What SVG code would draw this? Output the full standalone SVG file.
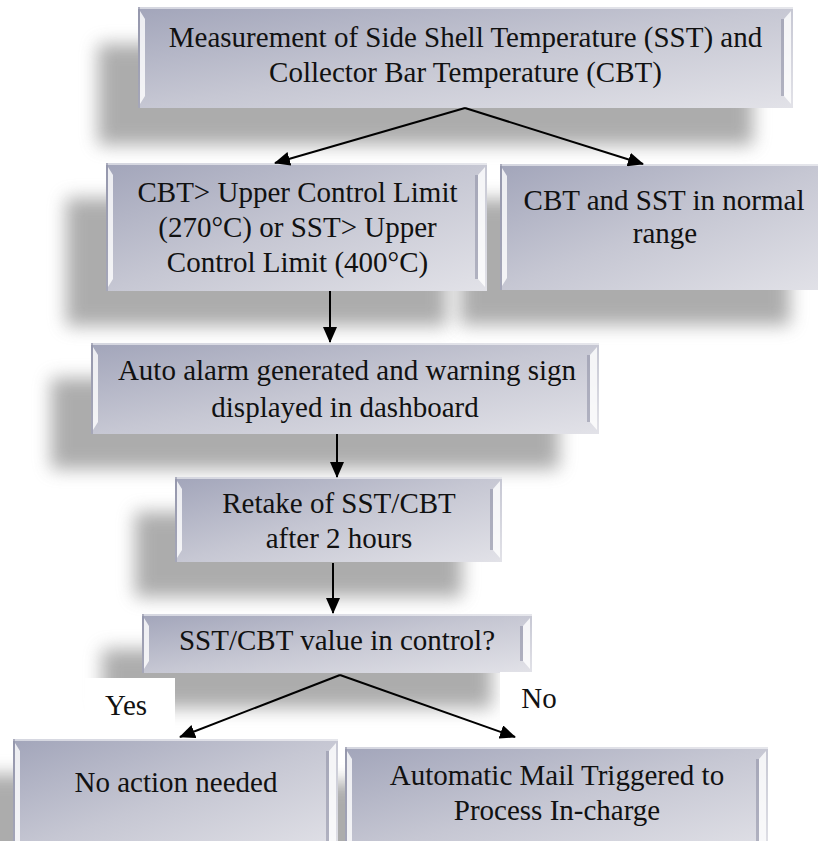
<svg xmlns="http://www.w3.org/2000/svg" width="818" height="841" viewBox="0 0 818 841">
<defs>
<style>
.box{fill:url(#boxg)}
.shadow{fill:#7a7a7a;opacity:.62;filter:url(#blur)}
.hl{fill:#ffffff;opacity:.8}
.dk{fill:#8a8ca2;opacity:.55}
.top{fill:#ffffff;opacity:.55}
.t{font-family:"Liberation Serif","Times New Roman",serif;font-size:29px;fill:#111;text-anchor:middle}
.lbl{fill:#ffffff}
.conn{stroke:#000;stroke-width:2;fill:none;marker-end:url(#arr)}
</style>
<linearGradient id="boxg" x1="0" y1="0" x2="1" y2="1">
<stop offset="0" stop-color="#a2a5ba"/>
<stop offset="0.5" stop-color="#c6c7d3"/>
<stop offset="1" stop-color="#e2e2e8"/>
</linearGradient>
<filter id="blur" x="-20%" y="-40%" width="140%" height="180%">
<feGaussianBlur stdDeviation="9"/>
</filter>
<marker id="arr" markerUnits="userSpaceOnUse" markerWidth="17" markerHeight="14" refX="15" refY="7" orient="auto">
<path d="M0,0 L16,7 L0,14 Z" fill="#000"/>
</marker>
</defs>
<rect width="818" height="841" fill="#fff"/>

<g id="n1">
<rect class="shadow" x="98" y="44" width="655" height="101"/>
<rect class="box" x="138" y="7" width="655" height="101"/>
<rect class="top" x="138" y="7" width="655" height="2"/>
<rect class="dk" x="138" y="7" width="2" height="101"/>
<path class="hl" d="M140,11 L145,19 L145,96 L140,104 Z"/>
<path class="dk" d="M781,19 L784,19 L784,96 L781,96 Z"/>
<path class="hl" d="M791,11 L784,19 L784,96 L791,104 Z"/>
<text class="t" x="465.5" y="47">Measurement of Side Shell Temperature (SST) and</text>
<text class="t" x="465.5" y="82">Collector Bar Temperature (CBT)</text>
</g>

<g id="n3">
<rect class="shadow" x="460" y="199" width="330" height="126"/>
<rect class="box" x="500" y="164" width="330" height="126"/>
<rect class="top" x="500" y="164" width="330" height="2"/>
<rect class="dk" x="500" y="164" width="2" height="126"/>
<path class="hl" d="M502,168 L507,176 L507,278 L502,286 Z"/>
<text class="t" x="664" y="210">CBT and SST in normal</text>
<text class="t" x="665" y="243">range</text>
</g>

<g id="n2">
<rect class="shadow" x="66" y="198" width="381" height="128"/>
<rect class="box" x="106" y="163" width="381" height="128"/>
<rect class="top" x="106" y="163" width="381" height="2"/>
<rect class="dk" x="106" y="163" width="2" height="128"/>
<path class="hl" d="M108,167 L113,175 L113,279 L108,287 Z"/>
<path class="dk" d="M475,175 L478,175 L478,279 L475,279 Z"/>
<path class="hl" d="M485,167 L478,175 L478,279 L485,287 Z"/>
<text class="t" x="297.5" y="202">CBT&gt; Upper Control Limit</text>
<text class="t" x="297.5" y="237">(270°C) or SST&gt; Upper</text>
<text class="t" x="297.5" y="272">Control Limit (400°C)</text>
</g>

<g id="n4">
<rect class="shadow" x="51" y="378" width="508" height="91"/>
<rect class="box" x="91" y="343" width="508" height="91"/>
<rect class="top" x="91" y="343" width="508" height="2"/>
<rect class="dk" x="91" y="343" width="2" height="91"/>
<path class="hl" d="M93,347 L98,355 L98,422 L93,430 Z"/>
<path class="dk" d="M587,355 L590,355 L590,422 L587,422 Z"/>
<path class="hl" d="M597,347 L590,355 L590,422 L597,430 Z"/>
<text class="t" x="347" y="380">Auto alarm generated and warning sign</text>
<text class="t" x="345" y="417">displayed in dashboard</text>
</g>

<g id="n5">
<rect class="shadow" x="135" y="512" width="327" height="85"/>
<rect class="box" x="175" y="477" width="327" height="85"/>
<rect class="top" x="175" y="477" width="327" height="2"/>
<rect class="dk" x="175" y="477" width="2" height="85"/>
<path class="hl" d="M177,481 L182,489 L182,550 L177,558 Z"/>
<path class="dk" d="M490,489 L493,489 L493,550 L490,550 Z"/>
<path class="hl" d="M500,481 L493,489 L493,550 L500,558 Z"/>
<text class="t" x="339" y="513">Retake of SST/CBT</text>
<text class="t" x="339" y="548">after 2 hours</text>
</g>

<g id="n6">
<rect class="shadow" x="102" y="649" width="390" height="59"/>
<rect class="box" x="142" y="614" width="390" height="59"/>
<rect class="top" x="142" y="614" width="390" height="2"/>
<rect class="dk" x="142" y="614" width="2" height="59"/>
<path class="hl" d="M144,618 L149,626 L149,661 L144,669 Z"/>
<path class="dk" d="M520,626 L523,626 L523,661 L520,661 Z"/>
<path class="hl" d="M530,618 L523,626 L523,661 L530,669 Z"/>
<text class="t" x="337" y="650">SST/CBT value in control?</text>
</g>

<g id="n8">
<rect class="shadow" x="305" y="782" width="423" height="110"/>
<rect class="box" x="345" y="747" width="423" height="110"/>
<rect class="top" x="345" y="747" width="423" height="2"/>
<rect class="dk" x="345" y="747" width="2" height="110"/>
<path class="hl" d="M347,751 L352,759 L352,857 L347,857 Z"/>
<path class="dk" d="M756,759 L759,759 L759,857 L756,857 Z"/>
<path class="hl" d="M766,751 L759,759 L759,857 L766,857 Z"/>
<text class="t" x="557" y="785">Automatic Mail Triggered to</text>
<text class="t" x="557" y="820">Process In-charge</text>
</g>

<g id="n7">
<rect class="shadow" x="-27" y="774" width="325" height="110"/>
<rect class="box" x="13" y="739" width="325" height="115"/>
<rect class="top" x="13" y="739" width="325" height="2"/>
<rect class="dk" x="13" y="739" width="2" height="115"/>
<path class="hl" d="M15,743 L20,751 L20,854 L15,854 Z"/>
<path class="dk" d="M326,751 L329,751 L329,854 L326,854 Z"/>
<path class="hl" d="M336,743 L329,751 L329,854 L336,854 Z"/>
<text class="t" x="176" y="792">No action needed</text>
</g>

<g id="connectors">
<rect class="lbl" x="85" y="678" width="90" height="54"/>
<text class="t" x="126" y="715">Yes</text>
<rect class="lbl" x="500" y="672" width="75" height="61"/>
<text class="t" x="539" y="708">No</text>
<line class="conn" x1="465" y1="108" x2="275" y2="163"/>
<line class="conn" x1="465" y1="108" x2="643" y2="164"/>
<line class="conn" x1="330" y1="291" x2="330" y2="342"/>
<line class="conn" x1="337" y1="434" x2="337" y2="477"/>
<line class="conn" x1="333" y1="563" x2="333" y2="613"/>
<line class="conn" x1="340" y1="675" x2="180" y2="737"/>
<line class="conn" x1="340" y1="675" x2="515" y2="737"/>
</g>
</svg>
